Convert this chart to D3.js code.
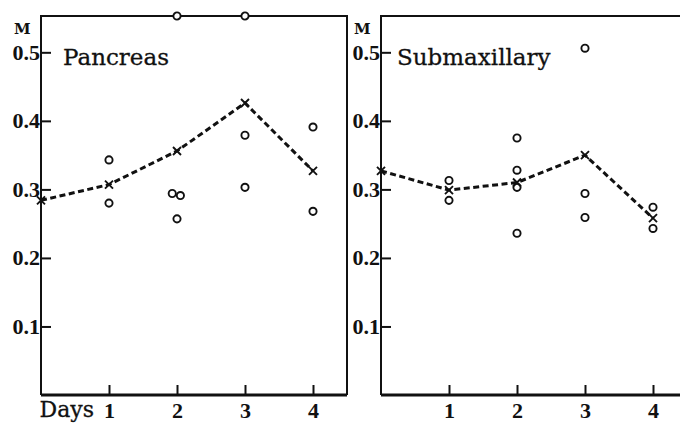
<!DOCTYPE html>
<html>
<head>
  <meta charset="UTF-8" />
  <title>Pancreas / Submaxillary</title>
  <script src="https://d3js.org/d3.v7.min.js"></script>
  <style>
    body { margin: 0; background: #fff; }
    .tick text { font-family: "Liberation Serif", serif; font-size: 22px; font-weight: bold; fill: #111; }
    .tick line { stroke: #111; stroke-width: 2px; }
    .frame { fill: none; stroke: #111; stroke-width: 2px; }
    .base { stroke: #111; stroke-width: 3px; }
    .title { font-family: "DejaVu Serif", serif; font-size: 23px; fill: #111; stroke: #111; stroke-width: 0.3px; }
    .unit { font-family: "DejaVu Serif", serif; font-size: 15px; font-weight: bold; fill: #111; }
    .days { font-family: "DejaVu Serif", serif; font-size: 22px; fill: #111; stroke: #111; stroke-width: 0.3px; }
    .mean { fill: none; stroke: #111; stroke-width: 3px; stroke-dasharray: 6 3.5; }
    .obs { fill: #fff; stroke: #111; stroke-width: 1.9px; }
    .cross { stroke: #111; stroke-width: 1.9px; }
  </style>
</head>
<body>
  <svg id="chart" width="680" height="423"></svg>
  <script>
    // values (M)
    const meanDays = [0, 1, 2, 3, 4];
    const pancreasMean = [0.284, 0.307, 0.356, 0.426, 0.327];
    const pancreasObs = [
      [1, 0.343], [1, 0.280],
      [2, 0.553], [1.93, 0.294], [2.05, 0.291], [2, 0.257],
      [3, 0.553], [3, 0.379], [3, 0.303],
      [4, 0.391], [4, 0.268]
    ];
    const submaxMean = [0.327, 0.299, 0.310, 0.350, 0.258];
    const submaxObs = [
      [1, 0.313], [1, 0.284],
      [2, 0.375], [2, 0.328], [2, 0.303], [2, 0.236],
      [3, 0.506], [3, 0.294], [3, 0.259],
      [4, 0.274], [4, 0.243]
    ];
    const yTicks = [0.1, 0.2, 0.3, 0.4, 0.5];
    const xTicks = [1, 2, 3, 4];

    const svg = d3.select("#chart");
    const plotTop = 16, plotBottom = 395, panelW = 306;
    const plotH = plotBottom - plotTop;

    const y = d3.scaleLinear().domain([0, 0.553]).range([plotH, 0]);
    const x = d3.scaleLinear().domain([0, 4.5]).range([0, panelW]);

    function panel(left, title, titleDx, means, obs) {
      const g = svg.append("g").attr("transform", `translate(${left},${plotTop})`);

      // box
      g.append("path").attr("class", "frame")
        .attr("d", `M0,${plotH}V0H${panelW}V${plotH}`);
      g.append("line").attr("class", "base")
        .attr("x1", 0).attr("x2", panelW).attr("y1", plotH).attr("y2", plotH);

      g.append("g")
        .call(d3.axisLeft(y).tickValues(yTicks).tickFormat(d3.format(".1f"))
          .tickSizeInner(-10).tickSizeOuter(0).tickPadding(1))
        .call(a => a.select(".domain").remove());

      g.append("g").attr("transform", `translate(0,${plotH})`)
        .call(d3.axisBottom(x).tickValues(xTicks).tickFormat(d3.format("d"))
          .tickSizeInner(-10).tickSizeOuter(0).tickPadding(7))
        .call(a => a.select(".domain").remove());

      g.append("text").attr("class", "unit")
        .attr("x", -27).attr("y", 18).text("M");

      g.append("text").attr("class", "title")
        .attr("x", titleDx).attr("y", 49).text(title);

      const line = d3.line().x((d, i) => x(meanDays[i])).y(d => y(d));
      g.append("path").attr("class", "mean").attr("d", line(means));

      g.selectAll("circle").data(obs).join("circle")
        .attr("class", "obs")
        .attr("cx", d => x(d[0])).attr("cy", d => y(d[1])).attr("r", 3.6);

      const s = 4;
      g.selectAll("path.cross").data(means).join("path")
        .attr("class", "cross")
        .attr("d", (d, i) => {
          const cx = x(meanDays[i]), cy = y(d);
          return `M${cx - s},${cy - s}L${cx + s},${cy + s}M${cx - s},${cy + s}L${cx + s},${cy - s}`;
        });
      return g;
    }

    const p1 = panel(41, "Pancreas", 22, pancreasMean, pancreasObs);
    panel(381, "Submaxillary", 16, submaxMean, submaxObs);

    p1.append("text").attr("class", "days")
      .attr("x", 53).attr("y", plotH + 22)
      .attr("text-anchor", "end")
      .text("Days");
  </script>
</body>
</html>
